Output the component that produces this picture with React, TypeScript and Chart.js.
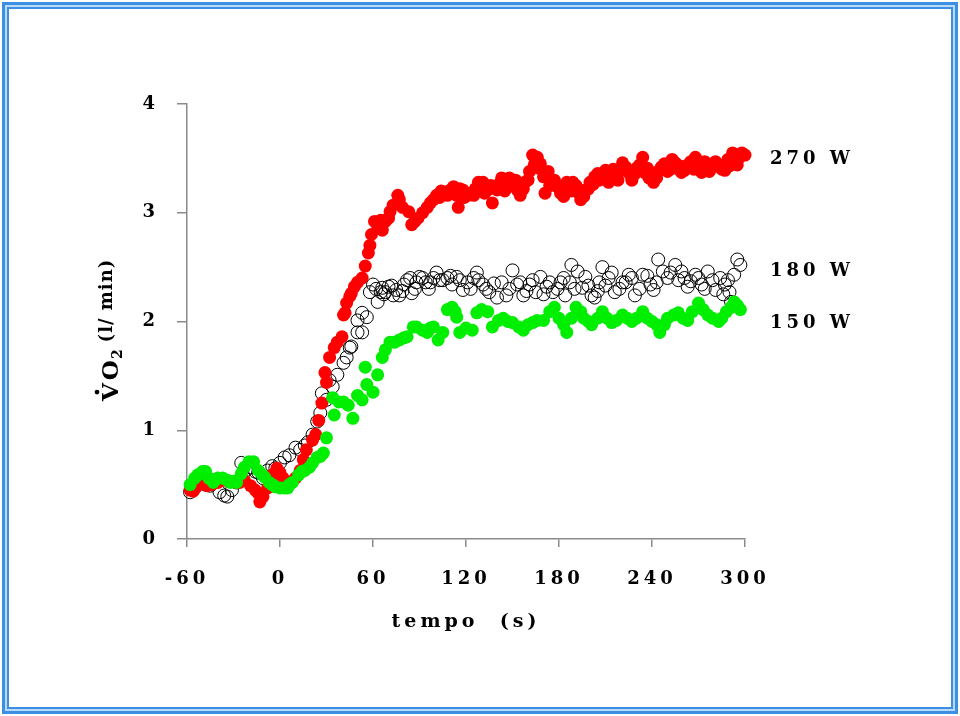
import React, { useEffect, useRef } from "react";
import { Chart, registerables } from "chart.js";

Chart.register(...registerables);

// ---- DATA (x = tempo in s, y = VO2 in l/min) ----
const xTicks = [-60, 0, 60, 120, 180, 240, 300];
const yTicks = [0, 1, 2, 3, 4];
const seriesLabels = ["270 W", "180 W", "150 W"];
// level (l/min) beside which each series label sits
const labelLevels = [3.49, 2.46, 1.98];

const red270: [number, number][] = [
  [-58, 0.45], [-56, 0.44], [-54, 0.48], [-50, 0.51], [-47, 0.49], [-44, 0.5], [-40, 0.52], [-36, 0.54],
  [-32, 0.53], [-28, 0.52], [-26, 0.52], [-23, 0.54], [-19, 0.49], [-16, 0.45], [-14, 0.42], [-13, 0.34],
  [-11, 0.39], [-8, 0.47], [-5, 0.59], [-2, 0.65], [0, 0.61], [2, 0.56], [5, 0.52], [6, 0.52], [10, 0.56],
  [13, 0.63], [15, 0.73], [17, 0.82], [21, 0.91], [23, 0.96], [25, 1.09], [27, 1.25], [29, 1.53], [30, 1.44],
  [32, 1.67], [35, 1.76], [37, 1.81], [40, 1.86], [41, 2.06], [42, 2.08], [43, 2.17], [45, 2.23], [46, 2.26],
  [48, 2.32], [50, 2.36], [53, 2.4], [55, 2.51], [57, 2.63], [58, 2.7], [59, 2.8], [61, 2.92], [63, 2.88],
  [65, 2.93], [66, 2.84], [68, 2.92], [70, 2.95], [71, 3.01], [73, 3.07], [76, 3.16], [77, 3.12], [79, 3.05],
  [83, 3.01], [85, 2.89], [87, 2.92], [89, 2.95], [92, 3.0], [95, 3.05], [97, 3.09], [99, 3.12], [101, 3.16],
  [103, 3.14], [104, 3.2], [106, 3.19], [108, 3.16], [110, 3.21], [112, 3.24], [114, 3.16], [115, 3.05],
  [116, 3.22], [118, 3.21], [119, 3.14], [121, 3.16], [123, 3.18], [125, 3.16], [126, 3.22], [128, 3.28],
  [131, 3.28], [132, 3.18], [134, 3.21], [136, 3.25], [137, 3.09], [140, 3.21], [141, 3.26], [143, 3.32],
  [145, 3.2], [147, 3.26], [148, 3.32], [150, 3.28], [152, 3.3], [153, 3.21], [155, 3.16], [157, 3.22],
  [158, 3.28], [160, 3.3], [161, 3.38], [163, 3.53], [164, 3.44], [166, 3.51], [167, 3.41], [168, 3.45],
  [170, 3.33], [171, 3.18], [173, 3.38], [174, 3.25], [175, 3.28], [177, 3.3], [179, 3.24], [181, 3.18],
  [183, 3.15], [185, 3.28], [186, 3.23], [188, 3.2], [189, 3.28], [191, 3.25], [192, 3.19], [194, 3.12],
  [196, 3.15], [197, 3.21], [199, 3.22], [200, 3.28], [202, 3.26], [203, 3.33], [205, 3.36], [206, 3.3],
  [208, 3.32], [210, 3.39], [212, 3.28], [213, 3.35], [215, 3.4], [216, 3.33], [218, 3.3], [219, 3.39],
  [221, 3.46], [223, 3.42], [224, 3.38], [226, 3.35], [227, 3.3], [229, 3.36], [230, 3.41], [232, 3.44],
  [234, 3.51], [235, 3.37], [237, 3.41], [238, 3.32], [240, 3.35], [241, 3.28], [243, 3.32], [244, 3.38],
  [246, 3.42], [248, 3.45], [250, 3.38], [252, 3.4], [253, 3.49], [255, 3.46], [256, 3.41], [258, 3.43],
  [259, 3.37], [261, 3.39], [263, 3.44], [265, 3.47], [267, 3.4], [268, 3.51], [270, 3.44], [272, 3.37],
  [274, 3.47], [275, 3.42], [277, 3.38], [279, 3.42], [281, 3.47], [283, 3.44], [285, 3.4], [287, 3.39],
  [289, 3.49], [290, 3.43], [292, 3.55], [294, 3.47], [295, 3.44], [296, 3.5], [298, 3.55], [300, 3.53],
];

const white180: [number, number][] = [
  [-58, 0.43], [-55, 0.47], [-52, 0.51], [-48, 0.5], [-45, 0.49], [-42, 0.54], [-39, 0.43], [-36, 0.4],
  [-34, 0.39], [-31, 0.45], [-28, 0.52], [-25, 0.7], [-22, 0.63], [-19, 0.66], [-16, 0.62], [-14, 0.61],
  [-11, 0.56], [-8, 0.63], [-5, 0.67], [-3, 0.65], [0, 0.7], [3, 0.75], [6, 0.77], [10, 0.84], [13, 0.82],
  [16, 0.86], [18, 0.89], [21, 0.96], [24, 1.08], [26, 1.16], [27, 1.34], [30, 1.28], [32, 1.46], [34, 1.4],
  [37, 1.51], [41, 1.62], [43, 1.67], [45, 1.76], [46, 1.77], [50, 1.9], [50, 2.01], [53, 1.9], [53, 2.08],
  [56, 2.04], [58, 2.27], [60, 2.34], [62, 2.3], [63, 2.18], [65, 2.27], [66, 2.31], [67, 2.25], [68, 2.27],
  [70, 2.32], [72, 2.33], [73, 2.24], [75, 2.29], [77, 2.24], [79, 2.28], [80, 2.34], [82, 2.38], [84, 2.4],
  [85, 2.26], [87, 2.3], [88, 2.36], [90, 2.41], [92, 2.4], [94, 2.36], [96, 2.3], [97, 2.36], [99, 2.4],
  [101, 2.45], [103, 2.38], [105, 2.38], [108, 2.4], [110, 2.42], [111, 2.34], [114, 2.41], [116, 2.38],
  [118, 2.29], [121, 2.36], [123, 2.3], [125, 2.4], [127, 2.45], [128, 2.38], [131, 2.34], [133, 2.3],
  [135, 2.27], [138, 2.35], [140, 2.22], [143, 2.36], [146, 2.24], [148, 2.3], [150, 2.47], [153, 2.34],
  [155, 2.36], [157, 2.24], [159, 2.28], [161, 2.34], [163, 2.38], [165, 2.27], [168, 2.41], [170, 2.25],
  [172, 2.32], [174, 2.36], [176, 2.27], [179, 2.3], [181, 2.36], [183, 2.4], [184, 2.24], [187, 2.36],
  [188, 2.52], [190, 2.3], [192, 2.46], [195, 2.31], [197, 2.41], [199, 2.33], [201, 2.24], [203, 2.22],
  [205, 2.28], [206, 2.36], [208, 2.5], [210, 2.33], [212, 2.4], [214, 2.45], [216, 2.27], [219, 2.3],
  [221, 2.36], [223, 2.36], [225, 2.43], [227, 2.4], [229, 2.24], [232, 2.3], [234, 2.43], [237, 2.42],
  [239, 2.34], [241, 2.29], [243, 2.36], [244, 2.57], [247, 2.46], [250, 2.4], [252, 2.45], [255, 2.52],
  [257, 2.38], [259, 2.46], [261, 2.4], [263, 2.32], [265, 2.37], [268, 2.43], [270, 2.4], [272, 2.34],
  [274, 2.3], [276, 2.46], [279, 2.38], [281, 2.29], [284, 2.4], [286, 2.25], [287, 2.34], [289, 2.38],
  [290, 2.27], [291, 2.18], [293, 2.43], [295, 2.57], [297, 2.52],
];

const green150: [number, number][] = [
  [-58, 0.5], [-55, 0.56], [-53, 0.59], [-50, 0.62], [-48, 0.62], [-46, 0.56], [-43, 0.52], [-40, 0.56],
  [-37, 0.56], [-34, 0.54], [-32, 0.52], [-30, 0.53], [-28, 0.52], [-25, 0.6], [-23, 0.66], [-20, 0.71],
  [-17, 0.71], [-14, 0.63], [-12, 0.6], [-10, 0.57], [-7, 0.52], [-5, 0.5], [-3, 0.48], [0, 0.47], [3, 0.47],
  [5, 0.47], [6, 0.5], [8, 0.52], [12, 0.59], [14, 0.62], [16, 0.63], [19, 0.66], [21, 0.7], [24, 0.75],
  [26, 0.76], [28, 0.79], [30, 0.93], [34, 1.3], [35, 1.14], [38, 1.26], [41, 1.26], [44, 1.23], [47, 1.11],
  [50, 1.32], [53, 1.28], [55, 1.58], [56, 1.42], [60, 1.35], [63, 1.51], [66, 1.67], [68, 1.74], [71, 1.81],
  [74, 1.81], [77, 1.83], [80, 1.85], [82, 1.86], [86, 1.95], [88, 1.95], [92, 1.92], [95, 1.9], [97, 1.94],
  [99, 1.95], [102, 1.83], [105, 1.9], [108, 2.11], [111, 2.13], [113, 2.09], [114, 2.04], [116, 1.9],
  [120, 1.94], [124, 1.92], [127, 2.08], [130, 2.11], [134, 2.09], [137, 1.95], [141, 2.01], [144, 2.03],
  [147, 2.0], [150, 1.99], [154, 1.95], [157, 1.92], [160, 1.97], [163, 1.99], [166, 2.01], [170, 2.01],
  [174, 2.09], [177, 2.13], [180, 2.03], [183, 1.97], [185, 1.9], [188, 2.03], [191, 2.13], [194, 2.09],
  [196, 2.03], [199, 2.0], [201, 1.97], [205, 2.03], [208, 2.09], [211, 2.03], [214, 1.99], [217, 2.01],
  [221, 2.06], [224, 2.03], [227, 2.0], [230, 2.03], [234, 2.09], [237, 2.03], [240, 2.0], [243, 1.97],
  [245, 1.9], [248, 1.97], [250, 2.03], [254, 2.06], [257, 2.08], [260, 2.03], [263, 2.01], [266, 2.09],
  [270, 2.17], [273, 2.11], [276, 2.06], [279, 2.03], [283, 2.0], [285, 2.03], [288, 2.09], [291, 2.13],
  [293, 2.18], [295, 2.15], [297, 2.11],
];

const toPts = (arr: [number, number][]) => arr.map(([x, y]) => ({ x, y }));

const FONT_FAMILY = '"DejaVu Serif", "Liberation Serif", serif';

const decorPlugin = {
  id: "decor",
  beforeLayout(chart: any) {
    (chart.ctx as any).letterSpacing = "4px";
  },
  beforeDraw(chart: any) {
    const ctx = chart.ctx;
    (ctx as any).letterSpacing = "4px";
    const W = chart.width;
    const H = chart.height;
    ctx.save();
    ctx.fillStyle = "#ffffff";
    ctx.fillRect(0, 0, W, H);
    // double blue frame
    ctx.fillStyle = "#3d8fe3";
    ctx.fillRect(2, 2, W - 4, H - 4);
    ctx.fillStyle = "#b9dbf7";
    ctx.fillRect(5, 5, W - 10, H - 10);
    ctx.fillStyle = "#3d8fe3";
    ctx.fillRect(7, 7, W - 14, H - 14);
    ctx.fillStyle = "#ffffff";
    ctx.fillRect(9, 9, W - 18, H - 18);
    ctx.restore();
  },
  afterDraw(chart: any) {
    const ctx = chart.ctx;
    const area = chart.chartArea;
    const yScale = chart.scales.y;
    ctx.save();
    ctx.fillStyle = "#000";
    // series labels on the right
    (ctx as any).letterSpacing = "4px";
    ctx.font = `bold 18px ${FONT_FAMILY}`;
    ctx.textAlign = "left";
    ctx.textBaseline = "middle";
    seriesLabels.forEach((lab, i) => {
      ctx.fillText(lab, area.right + 25, yScale.getPixelForValue(labelLevels[i]));
    });
    ctx.restore();

    // y axis title: V-dot O2 (l/ min), written bottom-to-top
    ctx.save();
    ctx.fillStyle = "#000";
    const startY = area.bottom - 138;
    ctx.translate(118, startY);
    ctx.rotate(-Math.PI / 2);
    ctx.textAlign = "left";
    ctx.textBaseline = "alphabetic";
    const big = `bold 23px ${FONT_FAMILY}`;
    const sub = `bold 14px ${FONT_FAMILY}`;
    const unit = `bold 18px ${FONT_FAMILY}`;
    (ctx as any).letterSpacing = "3px";
    ctx.font = big;
    let x = 0;
    ctx.fillText("V", x, 0);
    const wV = ctx.measureText("V").width - 3;
    ctx.beginPath();
    ctx.arc(x + wV / 2, -21, 2.4, 0, Math.PI * 2);
    ctx.fill();
    x += wV + 3;
    ctx.fillText("O", x, 0);
    x += ctx.measureText("O").width;
    ctx.font = sub;
    (ctx as any).letterSpacing = "0px";
    ctx.fillText("2", x - 2, 4);
    x += ctx.measureText("2").width + 5;
    ctx.font = unit;
    (ctx as any).letterSpacing = "1px";
    ctx.fillText("(l/ min)", x, -6);
    ctx.restore();
  },
};

export default function App() {
  const ref = useRef<HTMLCanvasElement | null>(null);

  useEffect(() => {
    document.body.style.margin = "0";
    const canvas = ref.current;
    if (!canvas) return;
    const tickFont = { family: FONT_FAMILY, size: 18, weight: "bold" as const };
    const axisColor = "#8a8a8a";
    const chart = new Chart(canvas, {
      type: "scatter",
      data: {
        datasets: [
          {
            label: seriesLabels[1],
            data: toPts(white180),
            pointRadius: 6.5,
            pointBackgroundColor: "rgba(255,255,255,0)",
            pointBorderColor: "#000000",
            pointBorderWidth: 1,
            order: 3,
            clip: false as any,
          },
          {
            label: seriesLabels[0],
            data: toPts(red270),
            pointRadius: 6.5,
            pointBackgroundColor: "#ff0000",
            pointBorderColor: "#ff0000",
            pointBorderWidth: 0,
            order: 2,
            clip: false as any,
          },
          {
            label: seriesLabels[2],
            data: toPts(green150),
            pointRadius: 6.5,
            pointBackgroundColor: "#00ee00",
            pointBorderColor: "#00ee00",
            pointBorderWidth: 0,
            order: 1,
            clip: false as any,
          },
        ],
      },
      options: {
        animation: false,
        responsive: false,
        devicePixelRatio: 1,
        events: [],
        layout: { padding: { left: 0, right: 215, top: 104, bottom: 0 } },
        plugins: { legend: { display: false }, tooltip: { enabled: false } },
        scales: {
          x: {
            type: "linear",
            min: -60,
            max: 300,
            afterBuildTicks: (s: any) => {
              s.ticks = xTicks.map((v) => ({ value: v }));
            },
            afterFit: (s: any) => {
              s.height = 177;
            },
            grid: {
              display: true,
              drawOnChartArea: false,
              drawTicks: true,
              tickLength: 8,
              color: axisColor,
              lineWidth: 1.5,
            },
            border: { display: true, color: axisColor, width: 1.5 },
            ticks: {
              font: tickFont,
              color: "#000",
              padding: 22,
              maxRotation: 0,
              autoSkip: false,
            },
            title: {
              display: true,
              text: "tempo  (s)",
              font: { family: FONT_FAMILY, size: 19, weight: "bold" as const },
              color: "#000",
              padding: { top: 0, bottom: 83 },
            },
          },
          y: {
            type: "linear",
            min: 0,
            max: 4,
            afterBuildTicks: (s: any) => {
              s.ticks = yTicks.map((v) => ({ value: v }));
            },
            afterFit: (s: any) => {
              s.width = 187;
            },
            grid: {
              display: true,
              drawOnChartArea: false,
              drawTicks: true,
              tickLength: 10,
              color: axisColor,
              lineWidth: 1.5,
            },
            border: { display: true, color: axisColor, width: 1.5 },
            ticks: { font: tickFont, color: "#000", padding: 18 },
          },
        },
      },
      plugins: [decorPlugin],
    });
    return () => chart.destroy();
  }, []);

  return (
    <canvas
      ref={ref}
      width={960}
      height={716}
      style={{ display: "block", width: "960px", height: "716px" }}
    />
  );
}
